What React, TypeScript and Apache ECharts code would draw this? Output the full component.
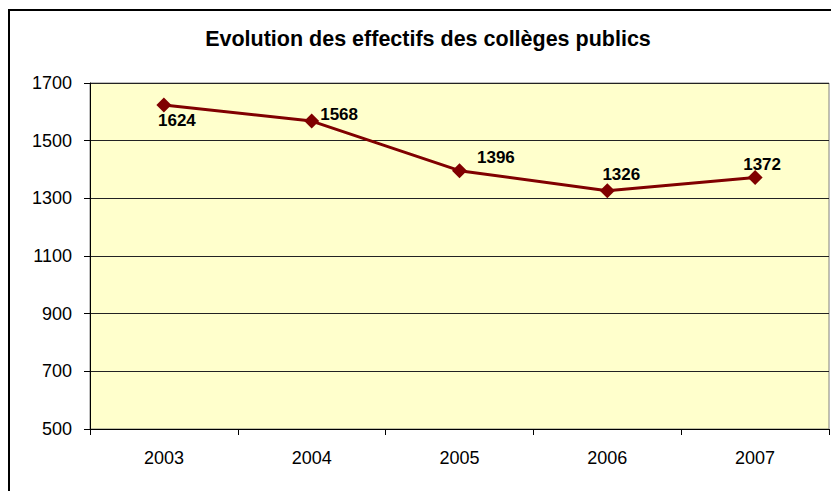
import React, { useEffect, useRef } from "react";
import * as echarts from "echarts";

const years = ["2003", "2004", "2005", "2006", "2007"];
const effectifs = [1624, 1568, 1396, 1326, 1372];
const titleText = "Evolution des effectifs des collèges publics";

const labelPlacements: any[] = [
  { position: "bottom", offset: [13, -5] },
  { position: "right", offset: [-4, -7] },
  { position: "right", offset: [5, -13] },
  { position: "top", offset: [14, 5] },
  { position: "top", offset: [7, 8] },
];

export default function App() {
  const ref = useRef<HTMLDivElement>(null);
  useEffect(() => {
    const chart = echarts.init(ref.current!, null, { renderer: "svg" });
    const font = "'Liberation Sans', Arial, sans-serif";
    chart.setOption({
      animation: false,
      backgroundColor: "#ffffff",
      textStyle: { fontFamily: font },
      graphic: [
        {
          type: "rect",
          shape: { x: 1, y: 2, width: 1000, height: 800 },
          style: { fill: "none", stroke: "#000", lineWidth: 2 },
          silent: true,
        },
        {
          type: "text",
          x: 420,
          y: 31,
          style: {
            text: titleText,
            fontFamily: font,
            fontSize: 21.5,
            fontWeight: "bold",
            fill: "#000",
            textAlign: "center",
            textVerticalAlign: "middle",
          },
        },
      ],
      grid: {
        left: 82,
        top: 75,
        right: 10,
        bottom: 62,
        show: true,
        backgroundColor: "#FFFFCC",
        borderColor: "#808080",
        borderWidth: 1,
      },
      xAxis: {
        type: "category",
        data: years,
        boundaryGap: true,
        axisLine: { lineStyle: { color: "#000", width: 1 } },
        axisTick: { show: true, length: 6, lineStyle: { color: "#000" } },
        axisLabel: { color: "#000", fontSize: 18, margin: 20, fontFamily: font },
        splitLine: { show: false },
      },
      yAxis: {
        type: "value",
        min: 500,
        max: 1700,
        interval: 200,
        axisLine: { show: true, lineStyle: { color: "#000", width: 1 } },
        axisTick: { show: true, length: 6, lineStyle: { color: "#000" } },
        axisLabel: {
          color: "#000",
          fontSize: 18,
          margin: 18,
          fontFamily: font,
          formatter: (v: number) => String(v),
        },
        splitLine: { show: true, lineStyle: { color: "#222", width: 1 } },
      },
      series: [
        {
          type: "line",
          data: effectifs.map((v, i) => ({
            value: v,
            label: labelPlacements[i],
          })),
          symbol: "diamond",
          symbolSize: 15,
          itemStyle: { color: "#800000" },
          lineStyle: { color: "#800000", width: 3 },
          label: {
            show: true,
            color: "#000",
            fontSize: 17,
            fontWeight: "bold",
            fontFamily: font,
          },
        },
      ],
    });
    return () => chart.dispose();
  }, []);
  return <div ref={ref} style={{ width: 831, height: 483 }} />;
}
